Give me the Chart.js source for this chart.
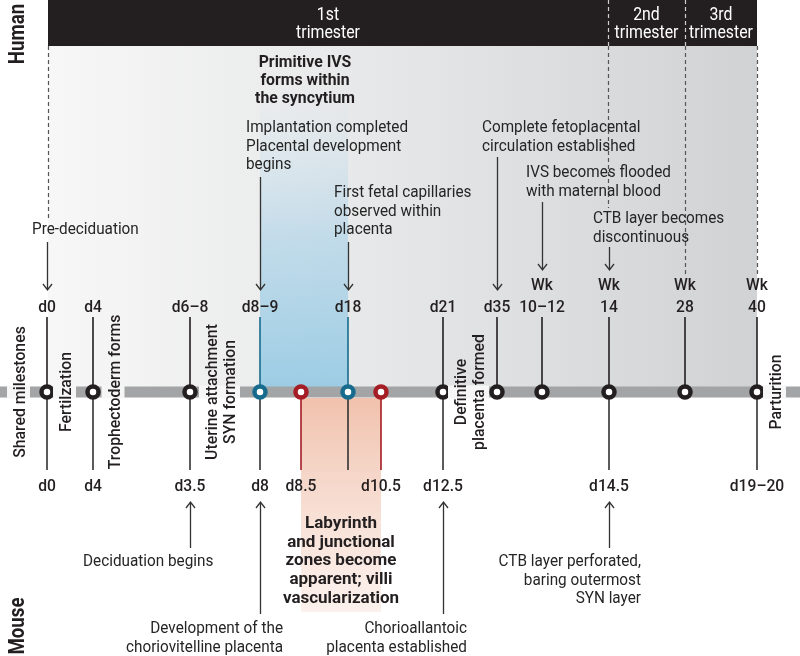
<!DOCTYPE html>
<html><head><meta charset="utf-8">
<script src="https://cdn.jsdelivr.net/npm/chart.js@4"></script>
<style>html,body{margin:0;padding:0;background:#fff;}#wrap{width:800px;height:656px;position:relative;}</style>
</head><body><div id="wrap"><canvas id="c"></canvas></div>
<script>
// ---- data (positions along the timeline) ----
const milestoneX     = [47, 93, 190, 260, 301, 348, 381, 443, 497, 542, 609, 685, 757];
const milestoneKind  = ['shared','shared','shared','human','mouse','human','mouse','shared','shared','shared','shared','shared','shared'];
const humanTopLabels = ['', '', '', '', '', '', '', '', '', 'Wk', 'Wk', 'Wk', 'Wk'];
const humanLabels    = ['d0','d4','d6–8','d8–9','','d18','','d21','d35','10–12','14','28','40'];
const mouseLabels    = ['d0','d4','d3.5','d8','d8.5','','d10.5','d12.5','','','d14.5','','d19–20'];
const mouseStem      = [1,1,1,1,1,1,1,1,0,0,1,0,1];
const trimesterBounds = [48, 608, 685, 757];
const trimesterNames  = [['1st','trimester'],['2nd','trimester'],['3rd','trimester']];
const humanRegion = [3, 5];   // indices of milestones bounding blue band
const mouseRegion = [4, 6];   // indices bounding red band

// ---- styles ----
const FONT = 'Roboto, "Noto Sans", sans-serif';
const INK = '#231f20';
const TXT = '#252525';
const BLUE = '#176b8c';
const RED = '#a51d25';
const BAR = '#a3a4a6';
const TL_Y = 392, HUMAN_TOP = 317, MOUSE_BOTTOM = 470;

function kindColor(k){ return k==='human'?BLUE:(k==='mouse'?RED:INK); }

const datasets = [];
datasets.push({type:'line', data:[{x:0,y:TL_Y},{x:800,y:TL_Y}], borderColor:BAR, borderWidth:11,
  pointRadius:0, order:5, borderCapStyle:'butt', clip:false});
milestoneX.forEach((x,i)=>{
  if (milestoneKind[i] !== 'mouse')
    datasets.push({type:'line', data:[{x:x,y:TL_Y},{x:x,y:HUMAN_TOP}], borderColor:kindColor(milestoneKind[i]),
      borderWidth:1.6, pointRadius:0, order:3});
  if (mouseStem[i])
    datasets.push({type:'line', data:[{x:x,y:TL_Y},{x:x,y:MOUSE_BOTTOM}], borderColor:milestoneKind[i]==='mouse'?RED:'#333',
      borderWidth:1.6, pointRadius:0, order:3});
});
datasets.push({type:'scatter', data:milestoneX.map(x=>({x:x,y:TL_Y})), pointRadius:5.5, pointHoverRadius:5.5,
  pointBorderWidth:4.5, pointBackgroundColor:'#fff', pointBorderColor:milestoneKind.map(kindColor), order:0});

// vertical labels: lines, baseline x of first line
const vLabels = [
  {lines:['Shared milestones'], x:25},
  {lines:['Fertilzation'], x:71},
  {lines:['Trophectoderm forms'], x:119.5},
  {lines:['Uterine attachment','SYN formation'], x:217},
  {lines:['Definitive','placenta formed'], x:466},
  {lines:['Parturition'], x:781},
];

const annotations = [
  {lines:['Primitive IVS','forms within','the syncytium'], x:305, y:67, lh:18, align:'center', bold:true, sq:0.93},
  {lines:['Implantation completed','Placental development','begins'], x:246, y:132, lh:18.5, align:'left'},
  {lines:['First fetal capillaries','observed within','placenta'], x:334, y:197, lh:18.5, align:'left'},
  {lines:['Pre-deciduation'], x:32, y:234, lh:18.5, align:'left'},
  {lines:['Complete fetoplacental','circulation established'], x:482, y:132, lh:18.5, align:'left'},
  {lines:['IVS becomes flooded','with maternal blood'], x:526, y:177, lh:18.5, align:'left'},
  {lines:['CTB layer becomes','discontinuous'], x:593, y:223, lh:18.5, align:'left'},
  {lines:['Deciduation begins'], x:83, y:566, lh:18.5, align:'left'},
  {lines:['Labyrinth','and junctional','zones become','apparent; villi','vascularization'], x:341, y:528, lh:18.7, align:'center', bold:true, sq:1.0},
  {lines:['Development of the','choriovitelline placenta'], x:283, y:633, lh:18.5, align:'right'},
  {lines:['Chorioallantoic','placenta established'], x:467, y:633, lh:18.5, align:'right'},
  {lines:['CTB layer perforated,','baring outermost','SYN layer'], x:641, y:566, lh:18.5, align:'right'},
];
// arrows: x, from y, to y (head at "to")
const arrows = [
  [47,242,290],[260,177,290],[348,242,290],[497,157,290],[542,202,270],[609,247,270],
  [190,548,502],[260,614,502],[443,614,502],[609,548,502]
];

function squeezeText(ctx, t, x, y, sq){
  ctx.save(); ctx.translate(x, y); ctx.scale(sq, 1); ctx.fillText(t, 0, 0); ctx.restore();
}

const bgPlugin = {
  id:'bg',
  beforeDatasetsDraw(chart){
    const ctx = chart.ctx, xs = chart.scales.x, ys = chart.scales.y;
    const X = v=>xs.getPixelForValue(v), Y = v=>ys.getPixelForValue(v);
    const L = X(trimesterBounds[0]), R = X(trimesterBounds[3]);
    ctx.save();
    let g = ctx.createLinearGradient(L,0,R,0);
    g.addColorStop(0,'#f7f7f7'); g.addColorStop(0.5,'#e5e6e7'); g.addColorStop(1,'#d1d2d4');
    ctx.fillStyle = g; ctx.fillRect(L, Y(46), R-L, Y(TL_Y)-Y(46));
    ctx.fillStyle = INK; ctx.fillRect(L, Y(0), R-L, Y(46)-Y(0));
    const bx0 = X(milestoneX[humanRegion[0]]), bx1 = X(milestoneX[humanRegion[1]]);
    g = ctx.createLinearGradient(0,Y(TL_Y),0,Y(90));
    g.addColorStop(0,'rgba(152,203,228,0.97)'); g.addColorStop(0.5,'rgba(175,212,232,0.7)'); g.addColorStop(1,'rgba(200,225,238,0)');
    ctx.fillStyle = g; ctx.fillRect(bx0, Y(90), bx1-bx0, Y(TL_Y)-Y(90));
    const rx0 = X(milestoneX[mouseRegion[0]]), rx1 = X(milestoneX[mouseRegion[1]]);
    g = ctx.createLinearGradient(0,Y(398),0,Y(612));
    g.addColorStop(0,'rgba(240,190,168,0.95)'); g.addColorStop(1,'rgba(246,220,208,0.4)');
    ctx.fillStyle = g; ctx.fillRect(rx0, Y(398), rx1-rx0, Y(612)-Y(398));
    ctx.lineWidth = 1.2; ctx.setLineDash([4,3]);
    const dash = (x,y0,y1,col)=>{ctx.strokeStyle=col; ctx.beginPath(); ctx.moveTo(X(x)+0.5,Y(y0)); ctx.lineTo(X(x)+0.5,Y(y1)); ctx.stroke();};
    dash(trimesterBounds[0],46,220,'#555');
    dash(trimesterBounds[1],0,46,'#cfcfcf'); dash(trimesterBounds[1],46,208,'#555');
    dash(trimesterBounds[2],0,46,'#cfcfcf'); dash(trimesterBounds[2],46,274,'#555');
    dash(trimesterBounds[3],46,276,'#555');
    ctx.setLineDash([]);
    ctx.fillStyle = '#fff'; ctx.textAlign='center'; ctx.textBaseline='alphabetic';
    ctx.font = '400 18px ' + FONT;
    trimesterNames.forEach((nm,i)=>{
      const cx = (X(trimesterBounds[i])+X(trimesterBounds[i+1]))/2;
      squeezeText(ctx, nm[0], cx, Y(20), 0.88); squeezeText(ctx, nm[1], cx, Y(38), 0.88);
    });
    ctx.restore();
  },
  afterDatasetsDraw(chart){
    const ctx = chart.ctx, xs = chart.scales.x, ys = chart.scales.y;
    const X = v=>xs.getPixelForValue(v), Y = v=>ys.getPixelForValue(v);
    ctx.save();
    vLabels.forEach(v=>{
      const n = v.lines.length, sp = 18;
      const x0 = v.x - 18, x1 = v.x + (n-1)*sp + 5;
      ctx.fillStyle = '#f6f6f6';
      ctx.fillRect(X(x0), Y(TL_Y)-6.5, X(x1)-X(x0), 13);
      v.lines.forEach((t,i)=>{
        ctx.save();
        ctx.translate(X(v.x + i*sp), Y(TL_Y));
        ctx.rotate(-Math.PI/2);
        ctx.scale(0.93, 1);
        ctx.font = '500 17px ' + FONT; ctx.fillStyle = INK;
        ctx.textAlign='center'; ctx.textBaseline='alphabetic';
        ctx.fillText(t,0,0);
        ctx.restore();
      });
    });
    [['Human',34],['Mouse',626]].forEach(([t,yc])=>{
      ctx.save(); ctx.translate(X(24), Y(yc)); ctx.rotate(-Math.PI/2);
      ctx.scale(0.85,1);
      ctx.font = 'bold 22px ' + FONT; ctx.fillStyle = INK; ctx.textAlign='center'; ctx.textBaseline='alphabetic';
      ctx.fillText(t,0,0); ctx.restore();
    });
    ctx.fillStyle = INK; ctx.textAlign='center'; ctx.textBaseline='alphabetic';
    ctx.font = '500 17px ' + FONT;
    milestoneX.forEach((x,i)=>{
      if (humanTopLabels[i]) squeezeText(ctx, humanTopLabels[i], X(x), Y(290), 0.92);
      if (humanLabels[i]) squeezeText(ctx, humanLabels[i], X(x), Y(312), 0.92);
      if (mouseLabels[i]) squeezeText(ctx, mouseLabels[i], X(x), Y(491), 0.92);
    });
    annotations.forEach(a=>{
      ctx.font = (a.bold?'bold 17px ':'17px ') + FONT;
      ctx.fillStyle = a.bold?INK:TXT; ctx.textAlign = a.align;
      const sq = a.sq || 0.9;
      a.lines.forEach((t,i)=>squeezeText(ctx, t, X(a.x), Y(a.y + i*a.lh), sq));
    });
    ctx.strokeStyle = '#333'; ctx.lineWidth = 1.3;
    arrows.forEach(([x,y0,y1])=>{
      const px = X(x)+0.5, p0 = Y(y0), p1 = Y(y1), d = p1>p0?1:-1;
      ctx.beginPath(); ctx.moveTo(px,p0); ctx.lineTo(px,p1);
      ctx.moveTo(px-4.5,p1-6*d); ctx.lineTo(px,p1); ctx.lineTo(px+4.5,p1-6*d);
      ctx.stroke();
    });
    ctx.restore();
  }
};

new Chart(document.getElementById('c'), {
  type:'scatter',
  data:{datasets:datasets},
  options:{
    responsive:true, maintainAspectRatio:false, animation:false, events:[],
    layout:{padding:0, autoPadding:false},
    plugins:{legend:{display:false}, tooltip:{enabled:false}},
    scales:{
      x:{type:'linear', min:0, max:800, display:false},
      y:{type:'linear', min:0, max:656, reverse:true, display:false}
    }
  },
  plugins:[bgPlugin]
});
</script></body></html>
